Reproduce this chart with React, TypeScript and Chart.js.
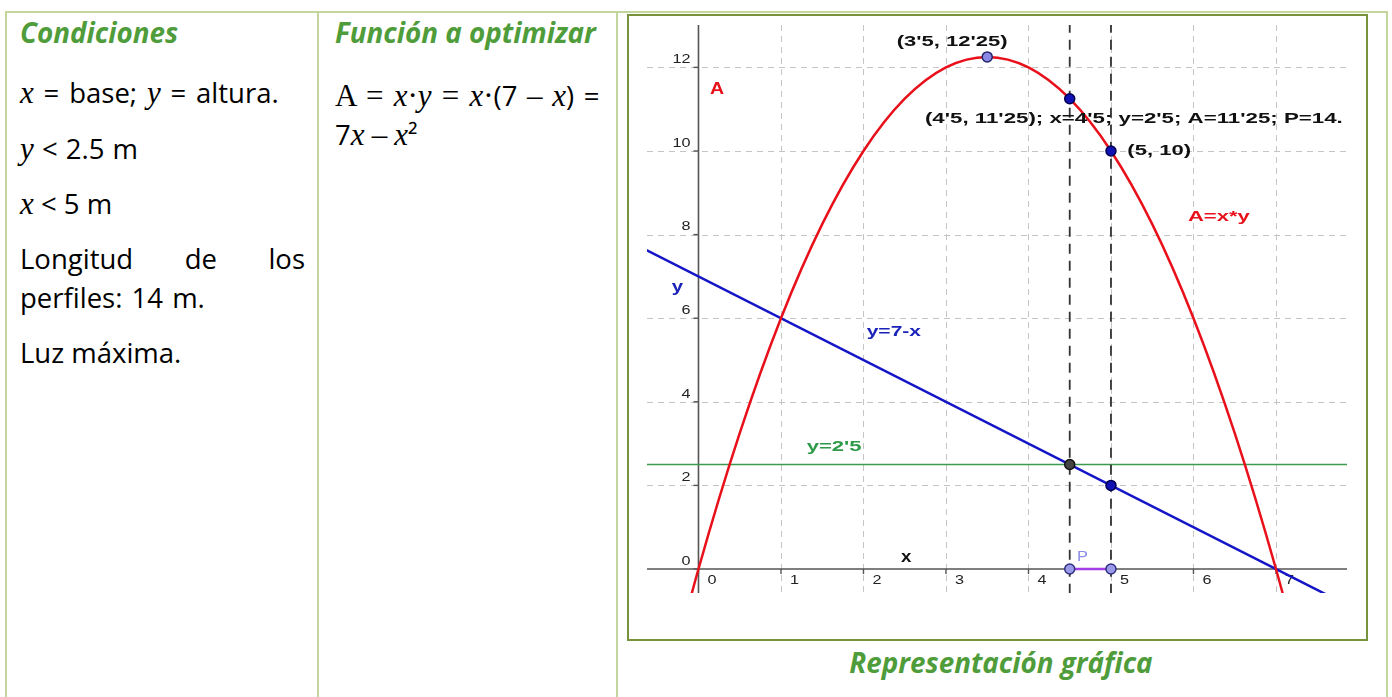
import React, { useEffect, useRef } from "react";
import { Chart, registerables } from "chart.js";
Chart.register(...registerables);

// ---- data ----
const curveX = [-0.5, 0, 0.5, 1, 1.5, 2, 2.5, 3, 3.5, 4, 4.5, 5, 5.5, 6, 6.5, 7, 7.5];
const curveA = [-3.75, 0, 3.25, 6, 8.25, 10, 11.25, 12, 12.25, 12, 11.25, 10, 8.25, 6, 3.25, 0, -3.75];
const lineX = [-1, 8];
const lineY = [8, -1];
const limitY = [2.5, 2.5];
const guideX = [4.5, 5];
const guideSpan = [-1, 14];
const perimeterX = [4.5, 5];
const perimeterY = [0, 0];
const keyPointX = [3.5, 4.5, 5, 4.5, 5, 4.5, 5];
const keyPointY = [12.25, 11.25, 10, 2.5, 2, 0, 0];
const xTickLabels = ["0", "1", "2", "3", "4", "5", "6", "7"];
const yTickLabels = ["0", "2", "4", "6", "8", "10", "12"];
const xGridValues = [1, 2, 3, 4, 5, 6, 7];
const yGridValues = [2, 4, 6, 8, 10, 12];
const xRange = [-0.624, 7.861];
const yRange = [-0.574, 13.014];

const GREEN = "#4f9c3b";
const SANS = '"Open Sans", sans-serif';
const SERIF = '"Liberation Serif", "Times New Roman", serif';
const CH_FONT = '"Liberation Sans", Arial, sans-serif';
const SX = 1.47;

type Lbl = { text: string; x: number; y: number; color: string; font: string; sx: number };

const chartLabels: Lbl[] = [
  { text: "(3'5, 12'25)", x: 2.402, y: 12.615, color: "#111", font: `bold 15px ${CH_FONT}`, sx: SX },
  { text: "A", x: 0.139, y: 11.467, color: "#e8101a", font: `bold 17px ${CH_FONT}`, sx: 1.15 },
  { text: "(4'5, 11'25); x=4'5; y=2'5; A=11'25; P=14.", x: 2.745, y: 10.766, color: "#111", font: `bold 15px ${CH_FONT}`, sx: 1.485 },
  { text: "(5, 10)", x: 5.198, y: 10.007, color: "#111", font: `bold 15px ${CH_FONT}`, sx: SX },
  { text: "A=x*y", x: 5.933, y: 8.428, color: "#e8101a", font: `bold 15px ${CH_FONT}`, sx: SX },
  { text: "y", x: -0.325, y: 6.737, color: "#1a22b8", font: `bold 17px ${CH_FONT}`, sx: 1.2 },
  { text: "y=7-x", x: 2.039, y: 5.67, color: "#1a22b8", font: `bold 15px ${CH_FONT}`, sx: 1.4 },
  { text: "y=2'5", x: 1.312, y: 2.926, color: "#2e9a4a", font: `bold 15px ${CH_FONT}`, sx: SX },
  { text: "x", x: 2.455, y: 0.287, color: "#111", font: `bold 17px ${CH_FONT}`, sx: 1.1 },
  { text: "P", x: 4.588, y: 0.287, color: "#8c8ce8", font: `15px ${CH_FONT}`, sx: 1.1 },
];

function stretchText(ctx: CanvasRenderingContext2D, text: string, x: number, y: number, sx: number, align: "left" | "right" = "left") {
  const w = ctx.measureText(text).width * sx;
  const left = align === "left" ? x : x - w;
  ctx.save();
  ctx.translate(left, y);
  ctx.scale(sx, 1);
  ctx.textAlign = "left";
  ctx.textBaseline = "middle";
  ctx.fillText(text, 0, 0);
  ctx.restore();
}

const geoPlugin = {
  id: "geoDecor",
  beforeDatasetsDraw(chart: any) {
    const { ctx, chartArea: a, scales } = chart;
    const xs = scales.x;
    const ys = scales.y;
    const px0 = xs.getPixelForValue(0);
    const py0 = ys.getPixelForValue(0);
    ctx.save();
    // grid
    ctx.strokeStyle = "#c4c4c4";
    ctx.lineWidth = 1;
    ctx.setLineDash([6, 5]);
    xGridValues.forEach((v) => {
      const p = Math.round(xs.getPixelForValue(v)) + 0.5;
      ctx.beginPath();
      ctx.moveTo(p, a.top);
      ctx.lineTo(p, a.bottom);
      ctx.stroke();
    });
    yGridValues.forEach((v) => {
      const p = Math.round(ys.getPixelForValue(v)) + 0.5;
      ctx.beginPath();
      ctx.moveTo(a.left, p);
      ctx.lineTo(a.right, p);
      ctx.stroke();
    });
    ctx.setLineDash([]);
    // axes
    ctx.strokeStyle = "#555";
    ctx.lineWidth = 1.6;
    ctx.beginPath();
    ctx.moveTo(a.left, py0);
    ctx.lineTo(a.right, py0);
    ctx.moveTo(px0, a.top);
    ctx.lineTo(px0, a.bottom);
    ctx.stroke();
    // tick marks
    ctx.lineWidth = 1.4;
    xTickLabels.forEach((t) => {
      const p = xs.getPixelForValue(Number(t));
      ctx.beginPath();
      ctx.moveTo(p, py0);
      ctx.lineTo(p, py0 + 5);
      ctx.stroke();
    });
    yTickLabels.forEach((t) => {
      const p = ys.getPixelForValue(Number(t));
      ctx.beginPath();
      ctx.moveTo(px0 - 5, p);
      ctx.lineTo(px0, p);
      ctx.stroke();
    });
    // tick labels
    ctx.fillStyle = "#222";
    ctx.font = `12px ${CH_FONT}`;
    xTickLabels.forEach((t) => {
      const p = xs.getPixelForValue(Number(t));
      stretchText(ctx, t, p + 9, py0 + 12, 1.35);
    });
    yTickLabels.forEach((t) => {
      const p = ys.getPixelForValue(Number(t));
      stretchText(ctx, t, px0 - 8, p - 7.5, 1.35, "right");
    });
    ctx.restore();
  },
  afterDatasetsDraw(chart: any) {
    const { ctx, scales } = chart;
    ctx.save();
    chartLabels.forEach((l) => {
      ctx.font = l.font;
      ctx.fillStyle = l.color;
      stretchText(ctx, l.text, scales.x.getPixelForValue(l.x), scales.y.getPixelForValue(l.y), l.sx);
    });
    ctx.restore();
  },
};

const toXY = (xs: number[], ys: number[]) => xs.map((x, i) => ({ x, y: ys[i] }));

function GeoChart() {
  const ref = useRef<HTMLCanvasElement>(null);
  useEffect(() => {
    const canvas = ref.current!;
    const chart = new Chart(canvas, {
      type: "scatter",
      data: {
        datasets: [
          {
            label: "puntos",
            data: toXY(keyPointX, keyPointY),
            pointRadius: 5,
            pointBorderWidth: 1.5,
            pointBackgroundColor: ["#8a8ae6", "#1212b4", "#1212b4", "#444", "#1212b4", "#9a9ae8", "#9a9ae8"],
            pointBorderColor: ["#25256a", "#000050", "#000050", "#111", "#000050", "#303080", "#303080"],
            showLine: false,
          },
          {
            label: "P",
            data: toXY(perimeterX, perimeterY),
            showLine: true,
            borderColor: "#a23ee6",
            borderWidth: 2.5,
            pointRadius: 0,
          },
          ...guideX.map((gx) => ({
            label: "x=" + gx,
            data: guideSpan.map((y) => ({ x: gx, y })),
            showLine: true,
            borderColor: "#333",
            borderWidth: 1.8,
            borderDash: [10, 7],
            pointRadius: 0,
          })),
          {
            label: "A=x*y",
            data: toXY(curveX, curveA),
            showLine: true,
            borderColor: "#e8101a",
            borderWidth: 2.5,
            cubicInterpolationMode: "monotone",
            pointRadius: 0,
          },
          {
            label: "y=7-x",
            data: toXY(lineX, lineY),
            showLine: true,
            borderColor: "#1515c8",
            borderWidth: 2.5,
            pointRadius: 0,
          },
          {
            label: "y=2'5",
            data: toXY(lineX, limitY),
            showLine: true,
            borderColor: "#3c9a4c",
            borderWidth: 1.6,
            pointRadius: 0,
          },
        ] as any,
      },
      options: {
        responsive: false,
        animation: false,
        events: [],
        layout: { padding: { left: 18, top: 9, right: 19, bottom: 46 } },
        plugins: { legend: { display: false }, tooltip: { enabled: false } },
        scales: {
          x: { type: "linear", min: xRange[0], max: xRange[1], display: false },
          y: { type: "linear", min: yRange[0], max: yRange[1], display: false },
        },
      },
      plugins: [geoPlugin],
    });
    return () => chart.destroy();
  }, []);
  return (
    <canvas
      ref={ref}
      width={737}
      height={623}
      style={{ position: "absolute", left: 629, top: 16, width: 737, height: 623 }}
    />
  );
}

const line = (left: number, cy: number, extra: React.CSSProperties = {}) =>
  ({
    position: "absolute",
    left,
    top: cy - 20,
    height: 40,
    lineHeight: "40px",
    whiteSpace: "nowrap",
    fontFamily: SANS,
    fontSize: 27.5,
    color: "#000",
    ...extra,
  } as React.CSSProperties);

const I = ({ children }: { children: React.ReactNode }) => (
  <span style={{ fontFamily: SERIF, fontStyle: "italic", fontSize: 31 }}>{children}</span>
);
const S = ({ children }: { children: React.ReactNode }) => (
  <span style={{ fontFamily: SERIF, fontSize: 31 }}>{children}</span>
);

const heading: React.CSSProperties = { fontWeight: 700, fontStyle: "italic", color: GREEN, fontSize: 27.8 };
const BORDER = "#c3d69b";

export default function App() {
  return (
    <div style={{ position: "fixed", left: 0, top: 0, width: 1392, height: 697, background: "#fff", overflow: "hidden" }}>
      {/* table borders */}
      <div style={{ position: "absolute", left: 5, top: 11, width: 1383, height: 2, background: BORDER }} />
      <div style={{ position: "absolute", left: 5, top: 11, width: 2, height: 700, background: BORDER }} />
      <div style={{ position: "absolute", left: 317, top: 11, width: 2, height: 700, background: BORDER }} />
      <div style={{ position: "absolute", left: 616, top: 11, width: 2, height: 700, background: BORDER }} />
      <div style={{ position: "absolute", left: 1386, top: 11, width: 2, height: 700, background: BORDER }} />

      {/* column 1 */}
      <div style={line(20, 32, heading)}>Condiciones</div>
      <div style={line(20, 93, { wordSpacing: 2.7 })}>
        <I>x</I> = base; <I>y</I> = altura.
      </div>
      <div style={line(20, 149, { wordSpacing: 1 })}>
        <I>y</I> &lt; 2.5 m
      </div>
      <div style={line(20, 204)}>
        <I>x</I> &lt; 5 m
      </div>
      <div style={{ ...line(20, 259), width: 285, textAlign: "justify", textAlignLast: "justify" } as React.CSSProperties}>
        Longitud de los
      </div>
      <div style={line(20, 298, { wordSpacing: 2 })}>perfiles: 14 m.</div>
      <div style={line(20, 353)}>Luz máxima.</div>

      {/* column 2 */}
      <div style={line(335, 32, heading)}>Función a optimizar</div>
      <div style={line(335, 96, { wordSpacing: 2.5 })}>
        <S>A = </S>
        <I>x</I>
        <S>·</S>
        <I>y</I>
        <S> = </S>
        <I>x</I>
        <S>·</S>(7 <S>–</S> <I>x</I>) =
      </div>
      <div style={line(335, 135)}>
        7<I>x</I> <S>–</S> <I>x</I>²
      </div>

      {/* chart frame */}
      <div
        style={{
          position: "absolute",
          left: 627,
          top: 14,
          width: 737,
          height: 623,
          border: "2px solid #77933c",
          background: "#fff",
        }}
      />
      <GeoChart />
      <div style={{ ...line(618, 662, heading), width: 766, textAlign: "center" } as React.CSSProperties}>
        Representación gráfica
      </div>
    </div>
  );
}
